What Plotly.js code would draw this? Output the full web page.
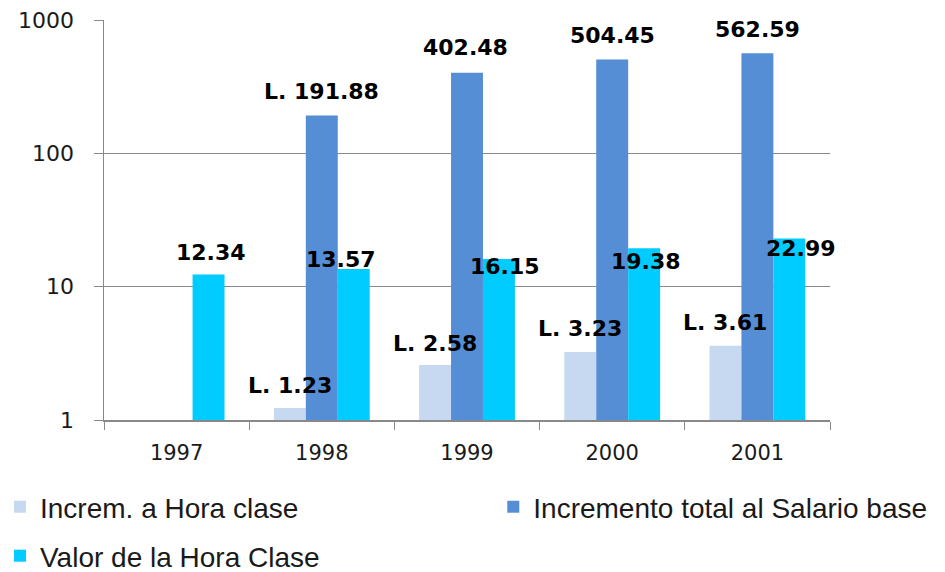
<!DOCTYPE html>
<html>
<head>
<meta charset="utf-8">
<script src="https://cdn.plot.ly/plotly-3.0.1.min.js"></script>
<style>html,body{margin:0;padding:0;background:#fff;}#chart{width:945px;height:572px;}</style>
</head>
<body>
<div id="chart"></div>
<script>
const years = ['1997', '1998', '1999', '2000', '2001'];
const seriesNames = ['Increm. a Hora clase', 'Incremento total al Salario base', 'Valor de la Hora Clase'];
const incremHora = [null, 1.23, 2.58, 3.23, 3.61];
const incremSalario = [null, 191.88, 402.48, 504.45, 562.59];
const valorHora = [12.34, 13.57, 16.15, 19.38, 22.99];
const labelsHora = ['', 'L. 1.23', 'L. 2.58', 'L. 3.23', 'L. 3.61'];
const labelsSalario = ['', 'L. 191.88', '402.48', '504.45', '562.59'];
const labelsValor = ['12.34', '13.57', '16.15', '19.38', '22.99'];
const yTicks = [1, 10, 100, 1000];

const colors = ['#C6D9F1', '#558ED5', '#00CCFF'];
const allSeries = [incremHora, incremSalario, valorHora];
const allLabels = [labelsHora, labelsSalario, labelsValor];
const legends = ['legend', 'legend3', 'legend2'];

const traces = allSeries.map((vals, i) => ({
  type: 'bar', name: seriesNames[i], x: years, y: vals,
  marker: {color: colors[i]}, legend: legends[i], hoverinfo: 'none'
}));

// label placement style (px offsets relative to bar centre / top)
const barOffset = [-32, 0, 32];
const yShift = [[0, 23, 22, 24, 23], [0, 24, 25, 24, 24], [22, 9, -8, -13, -10]];
const xShift = [[0, 0, 0, 0, 0], [0, 0, -2, 0, 0], [2, -13, 6, 2, 12]];

const annotations = [];
allSeries.forEach((vals, s) => {
  vals.forEach((v, k) => {
    if (v == null) return;
    annotations.push({
      x: k, y: Math.log10(v), xref: 'x', yref: 'y',
      text: '<b>' + allLabels[s][k] + '</b>', showarrow: false,
      xshift: barOffset[s] + xShift[s][k], yshift: yShift[s][k],
      font: {family: 'DejaVu Sans', size: 22, color: '#000'}
    });
  });
});

const legendFont = {family: 'Liberation Sans', size: 28, color: '#1a1a1a'};
const legendBase = {
  orientation: 'h', xref: 'container', yref: 'container',
  xanchor: 'left', yanchor: 'middle', itemwidth: 30,
  font: legendFont, bgcolor: 'rgba(0,0,0,0)'
};

const layout = {
  width: 945, height: 572,
  margin: {l: 104, r: 115, t: 20, b: 152},
  paper_bgcolor: '#fff', plot_bgcolor: '#fff',
  barmode: 'group', bargap: 0.34, bargroupgap: 0,
  showlegend: true,
  font: {family: 'DejaVu Sans', color: '#1a1a1a'},
  xaxis: {
    type: 'category', range: [-0.5, 4.5], tickson: 'boundaries', ticks: 'outside', ticklen: 8, tickcolor: '#888',
    showline: true, linecolor: '#888', linewidth: 1.5, showgrid: false,
    ticklabelstandoff: 13, automargin: false,
    tickfont: {family: 'DejaVu Sans', size: 21, color: '#1a1a1a'}
  },
  yaxis: {
    type: 'log', range: [0, 3], tickvals: yTicks, ticktext: yTicks.map(String),
    ticks: 'outside', ticklen: 9, tickcolor: '#888',
    showline: true, linecolor: '#888', linewidth: 1.5,
    showgrid: true, gridcolor: '#888', gridwidth: 1.2, zeroline: false,
    ticklabelstandoff: 15, automargin: false,
    tickfont: {family: 'DejaVu Sans', size: 22, color: '#1a1a1a'}
  },
  legend: Object.assign({}, legendBase, {x: 0, y: 0.1136}),
  legend3: Object.assign({}, legendBase, {x: 0.522, y: 0.1136}),
  legend2: Object.assign({}, legendBase, {x: 0, y: 0.028}),
  annotations: annotations
};

Plotly.newPlot('chart', traces, layout, {displayModeBar: false, staticPlot: true});
</script>
</body>
</html>
